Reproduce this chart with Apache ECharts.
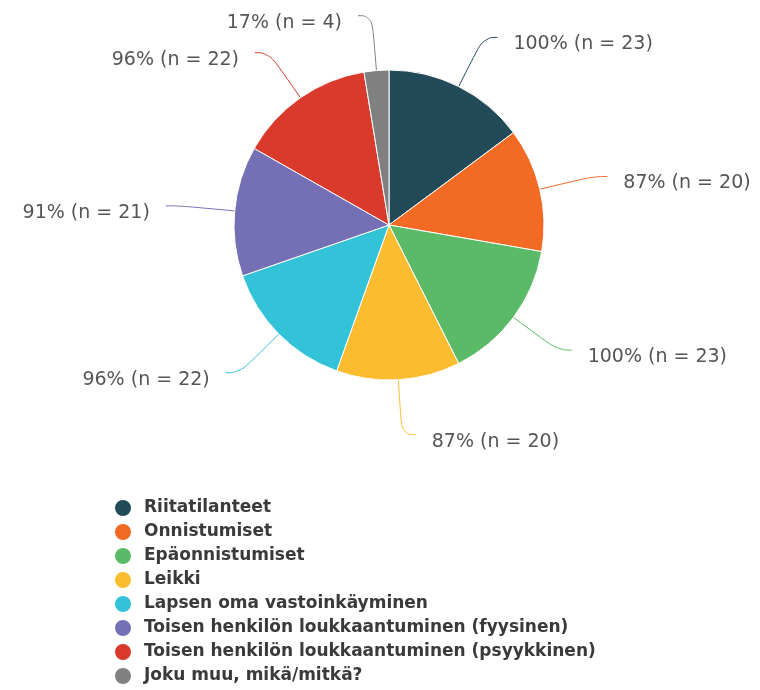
<!DOCTYPE html>
<html>
<head>
<meta charset="utf-8">
<script src="https://cdn.jsdelivr.net/npm/echarts@6/dist/echarts.min.js"></script>
<style>
  html, body { margin: 0; padding: 0; background: #fff; }
  #chart { width: 760px; height: 690px; }
</style>
</head>
<body>
<div id="chart"></div>
<script>
  const categories = [
    'Riitatilanteet',
    'Onnistumiset',
    'Epäonnistumiset',
    'Leikki',
    'Lapsen oma vastoinkäyminen',
    'Toisen henkilön loukkaantuminen (fyysinen)',
    'Toisen henkilön loukkaantuminen (psyykkinen)',
    'Joku muu, mikä/mitkä?'
  ];
  const counts = [23, 20, 23, 20, 22, 21, 22, 4];
  const percents = [100, 87, 100, 87, 96, 91, 96, 17];
  const colors = ['#234a58', '#f26a24', '#5bba68', '#fbbd2f', '#33c3d9', '#7570b5', '#d93a2b', '#808080'];

  const chart = echarts.init(document.getElementById('chart'));
  const seriesData = categories.map((name, i) => ({
    name,
    value: counts[i],
    pct: percents[i],
    itemStyle: { color: colors[i] },
    labelLine: { lineStyle: { color: colors[i] } }
  }));

  chart.setOption({
    textStyle: { fontFamily: 'DejaVu Sans, sans-serif' },
    legend: {
      orient: 'vertical',
      left: 108,
      top: 493,
      height: 196,
      icon: 'circle',
      itemWidth: 32,
      itemHeight: 18,
      itemGap: 4,
      selectedMode: false,
      textStyle: { fontSize: 17, fontWeight: 'bold', color: '#3a3a3a' },
      data: categories
    },
    series: [
      {
        type: 'pie',
        center: [389, 225],
        radius: [0, 155],
        startAngle: 90,
        clockwise: true,
        animation: false,
        itemStyle: { borderColor: '#fff', borderWidth: 1 },
        label: {
          formatter: p => p.data.pct + '% (n = ' + p.value + ')',
          fontSize: 19,
          color: '#555',
          overflow: 'none',
          distanceToLabelLine: 16
        },
        labelLayout: { dy: 7 },
        labelLine: { length: 55, length2: 14, smooth: 0.5, lineStyle: { width: 1 } },
        data: seriesData
      }
    ]
  });
</script>
</body>
</html>
